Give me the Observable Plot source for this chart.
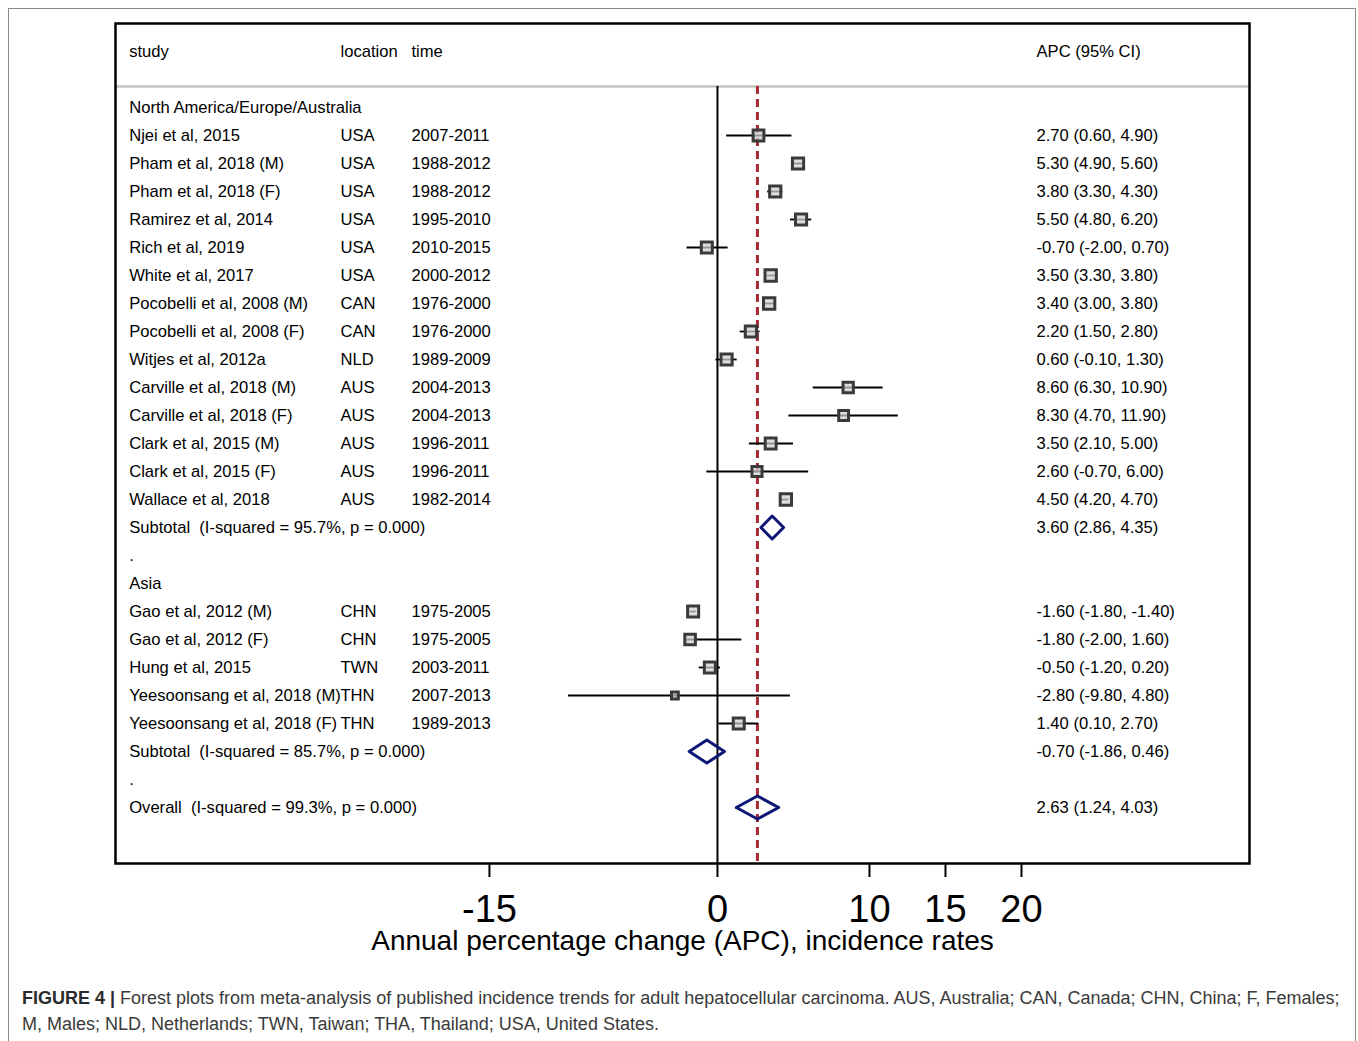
<!DOCTYPE html>
<html>
<head>
<meta charset="utf-8">
<script src="https://cdn.jsdelivr.net/npm/d3@7"></script>
<script src="https://cdn.jsdelivr.net/npm/@observablehq/plot@0.6"></script>
<style>
  html, body { margin: 0; padding: 0; background: #fff; overflow: hidden; }
  #page { position: relative; width: 1358px; height: 1041px; }
  #border { position: absolute; left: 8px; top: 8px; width: 1348px; height: 1060px;
            border: 1.5px solid #8a8a8a; box-sizing: border-box; }
  #chart { position: absolute; left: 0; top: 0; }
  #caption { position: absolute; left: 22px; top: 985px; font-family: "Liberation Sans", Arial, sans-serif;
             font-size: 18px; line-height: 26px; color: #3a3a3a; white-space: nowrap; }
  #caption b { color: #2a2a2a; }
</style>
</head>
<body>
<div id="page">
  <div id="border"></div>
  <div id="chart"></div>
  <div id="caption"><b>FIGURE 4 |</b> Forest plots from meta-analysis of published incidence trends for adult hepatocellular carcinoma. AUS, Australia; CAN, Canada; CHN, China; F, Females;<br>M, Males; NLD, Netherlands; TWN, Taiwan; THA, Thailand; USA, United States.</div>
</div>
<script>
// ---------------- data ----------------
const groupNames = ["North America/Europe/Australia", "Asia"];
const studies = [
  "Njei et al, 2015", "Pham et al, 2018 (M)", "Pham et al, 2018 (F)", "Ramirez et al, 2014",
  "Rich et al, 2019", "White et al, 2017", "Pocobelli et al, 2008 (M)", "Pocobelli et al, 2008 (F)",
  "Witjes et al, 2012a", "Carville et al, 2018 (M)", "Carville et al, 2018 (F)", "Clark et al, 2015 (M)",
  "Clark et al, 2015 (F)", "Wallace et al, 2018",
  "Gao et al, 2012 (M)", "Gao et al, 2012 (F)", "Hung et al, 2015",
  "Yeesoonsang et al, 2018 (M)", "Yeesoonsang et al, 2018 (F)"
];
const studyGroup = [0,0,0,0,0,0,0,0,0,0,0,0,0,0, 1,1,1,1,1];
const locations = ["USA","USA","USA","USA","USA","USA","CAN","CAN","NLD","AUS","AUS","AUS","AUS","AUS",
                   "CHN","CHN","TWN","THN","THN"];
const periods = ["2007-2011","1988-2012","1988-2012","1995-2010","2010-2015","2000-2012","1976-2000","1976-2000",
                 "1989-2009","2004-2013","2004-2013","1996-2011","1996-2011","1982-2014",
                 "1975-2005","1975-2005","2003-2011","2007-2013","1989-2013"];
const apc   = [2.70, 5.30, 3.80, 5.50, -0.70, 3.50, 3.40, 2.20, 0.60, 8.60, 8.30, 3.50, 2.60, 4.50,
               -1.60, -1.80, -0.50, -2.80, 1.40];
const ciLow = [0.60, 4.90, 3.30, 4.80, -2.00, 3.30, 3.00, 1.50, -0.10, 6.30, 4.70, 2.10, -0.70, 4.20,
               -1.80, -2.00, -1.20, -9.80, 0.10];
const ciHigh= [4.90, 5.60, 4.30, 6.20, 0.70, 3.80, 3.80, 2.80, 1.30, 10.90, 11.90, 5.00, 6.00, 4.70,
               -1.40, 1.60, 0.20, 4.80, 2.70];
const weights = [4.8, 5.2, 5.2, 5.1, 5.0, 5.3, 5.3, 5.2, 5.1, 4.4, 4.0, 4.9, 4.2, 5.3,
                 5.0, 4.6, 5.0, 1.9, 5.0];
const subtotalLabels = ["Subtotal\u00a0\u00a0(I-squared = 95.7%, p = 0.000)", "Subtotal\u00a0\u00a0(I-squared = 85.7%, p = 0.000)"];
const subtotalEst  = [3.60, -0.70];
const subtotalLow  = [2.86, -1.86];
const subtotalHigh = [4.35, 0.46];
const overallLabel = "Overall\u00a0\u00a0(I-squared = 99.3%, p = 0.000)";
const overallEst = 2.63, overallLow = 1.24, overallHigh = 4.03;
const headers = ["study", "location", "time", "APC (95% CI)"];
const xTicks = [-15, 0, 10, 15, 20];
const axisTitle = "Annual percentage change (APC), incidence rates";

// ---------------- layout helpers ----------------
const fmt = v => v.toFixed(2);
const ciText = (e, l, h) => `${fmt(e)} (${fmt(l)}, ${fmt(h)})`;
const colStudy = -38.7, colLoc = -24.8, colTime = -20.13, colApc = 20.99; // column anchors in x units
const headerRow = -2, sepRow = -0.75;

const studyRows = [], labelRows = [], diamonds = [];
let row = 0;
groupNames.forEach((g, gi) => {
  labelRows.push({row, text: g});
  row++;
  studies.forEach((s, i) => {
    if (studyGroup[i] !== gi) return;
    studyRows.push({row, study: s, loc: locations[i], time: periods[i], est: apc[i], lo: ciLow[i], hi: ciHigh[i], w: weights[i],
                    apcText: ciText(apc[i], ciLow[i], ciHigh[i])});
    row++;
  });
  labelRows.push({row, text: subtotalLabels[gi], apcText: ciText(subtotalEst[gi], subtotalLow[gi], subtotalHigh[gi])});
  diamonds.push({id: "s" + gi, row, est: subtotalEst[gi], lo: subtotalLow[gi], hi: subtotalHigh[gi]});
  row++;
  labelRows.push({row, text: "."});
  row++;
});
labelRows.push({row, text: overallLabel, apcText: ciText(overallEst, overallLow, overallHigh)});
diamonds.push({id: "o", row, est: overallEst, lo: overallLow, hi: overallHigh});
const lastRow = row;

const dh = 0.41;
const diamondPts = diamonds.flatMap(d => [
  {id: d.id, x: d.lo, y: d.row}, {id: d.id, x: d.est, y: d.row - dh},
  {id: d.id, x: d.hi, y: d.row}, {id: d.id, x: d.est, y: d.row + dh},
  {id: d.id, x: d.lo, y: d.row}
]);

const headerData = headers.map((h, i) => ({text: h, x: [colStudy, colLoc, colTime, colApc][i]}));

const font = "'Liberation Sans', Arial, Helvetica, sans-serif";

const chart = Plot.plot({
  width: 1358,
  height: 960,
  marginLeft: 115,
  marginRight: 109,
  marginTop: 23,
  marginBottom: 97,
  style: {fontFamily: font, fontSize: "16.6px", background: "transparent", color: "black"},
  x: {domain: [-39.6, 35.0], axis: null},
  y: {domain: [-3, lastRow + 2], reverse: true, axis: null},
  r: {type: "sqrt", domain: [0, 5.3], range: [0, 6.4]},
  marks: [
    // header separator
    Plot.ruleY([sepRow], {stroke: "#c4c4c4", strokeWidth: 2.5}),
    // zero line and overall estimate line
    Plot.ruleX([0], {y1: sepRow, y2: lastRow + 2, stroke: "black", strokeWidth: 2}),
    Plot.ruleX([overallEst], {y1: sepRow, y2: lastRow + 2, stroke: "#a52a33", strokeWidth: 3, strokeDasharray: "8,5"}),
    // confidence intervals
    Plot.ruleY(studyRows, {y: "row", x1: "lo", x2: "hi", stroke: "black", strokeWidth: 1.8}),
    // study boxes
    Plot.dot(studyRows, {x: "est", y: "row", r: "w", symbol: "square", fill: "#d0d0d0", fillOpacity: 0.72,
                         stroke: "#3a3a3a", strokeWidth: 3}),
    // pooled diamonds
    Plot.line(diamondPts, {x: "x", y: "y", z: "id", stroke: "#0d1775", strokeWidth: 3, curve: "linear"}),
    // header texts
    Plot.text(headerData, {x: "x", y: () => headerRow, text: "text", textAnchor: "start"}),
    // study columns
    Plot.text(studyRows, {x: colStudy, y: "row", text: "study", textAnchor: "start"}),
    Plot.text(studyRows, {x: colLoc, y: "row", text: "loc", textAnchor: "start"}),
    Plot.text(studyRows, {x: colTime, y: "row", text: "time", textAnchor: "start"}),
    Plot.text(studyRows, {x: colApc, y: "row", text: "apcText", textAnchor: "start"}),
    // group labels, subtotals, overall
    Plot.text(labelRows, {x: colStudy, y: "row", text: "text", textAnchor: "start"}),
    Plot.text(labelRows.filter(d => d.apcText), {x: colApc, y: "row", text: "apcText", textAnchor: "start"}),
    // x axis
    Plot.axisX({ticks: xTicks, tickFormat: d => String(d), tickSize: 14, tickPadding: 18, fontSize: 38,
                strokeWidth: 2, label: null}),
    Plot.text([axisTitle], {frameAnchor: "bottom", lineAnchor: "middle", dy: 78, fontSize: 28, text: d => d}),
    Plot.frame({stroke: "black", strokeWidth: 2.5})
  ]
});
document.getElementById("chart").appendChild(chart);
</script>
</body>
</html>
